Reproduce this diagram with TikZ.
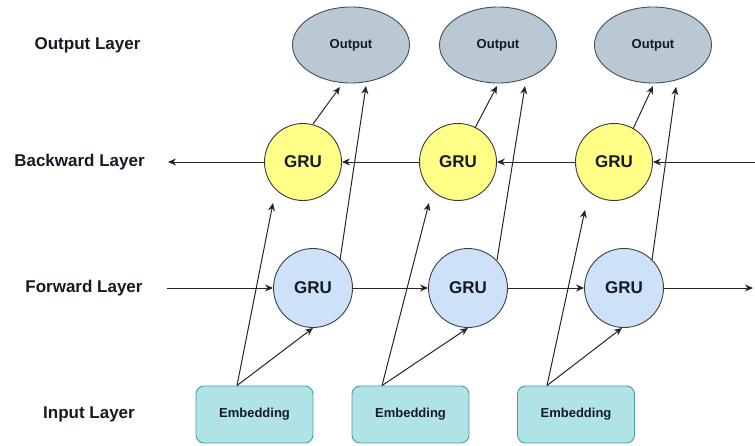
\documentclass[tikz,border=0pt]{standalone}
\usepackage{fontspec}
\setmainfont{Liberation Sans}
\usetikzlibrary{shapes.geometric,arrows.meta}
\definecolor{outfill}{HTML}{BAC8D3}
\definecolor{outdraw}{HTML}{3F4F5F}
\definecolor{yelfill}{HTML}{FFFF88}
\definecolor{yeldraw}{HTML}{36393D}
\definecolor{blufill}{HTML}{CDE1F8}
\definecolor{bludraw}{HTML}{3A3F48}
\definecolor{embfill}{HTML}{B0E3E6}
\definecolor{embdraw}{HTML}{4A9EA2}
\definecolor{txt}{HTML}{151A26}
\tikzset{
  lbl/.style={font=\fontsize{17}{20}\selectfont\bfseries, text=txt},
  outnode/.style={ellipse, draw=outdraw, fill=outfill, line width=0.9pt, minimum width=117pt, minimum height=76pt, inner sep=0pt, text=txt, font=\fontsize{13}{15}\selectfont\bfseries},
  bwd/.style={circle, draw=yeldraw, fill=yelfill, line width=0.9pt, minimum size=77pt, inner sep=0pt, text=txt, font=\fontsize{17}{20}\selectfont\bfseries},
  fwd/.style={circle, draw=bludraw, fill=blufill, line width=0.9pt, minimum size=79pt, inner sep=0pt, text=txt, font=\fontsize{17}{20}\selectfont\bfseries},
  emb/.style={rectangle, rounded corners=8pt, draw=embdraw, fill=embfill, line width=0.9pt, minimum width=117pt, minimum height=57pt, inner sep=0pt, text=txt, font=\fontsize{13}{15}\selectfont\bfseries},
  conn/.style={draw=black!85, line width=1pt, -{Stealth[length=8pt,width=7pt]}},
}
\begin{document}
\begin{tikzpicture}[x=1pt,y=-1pt]
\useasboundingbox (0,0) rectangle (755,445);
% layer labels
\node[lbl] (lout) at (87.5,45) {Output Layer};
\node[lbl] (lbwd) at (79.5,162) {Backward Layer};
\node[lbl] (lfwd) at (84,288) {Forward Layer};
\node[lbl] (linp) at (89,414) {Input Layer};
% nodes
\node[outnode] (o1) at (351,45) {Output};
\node[outnode] (o2) at (498,45) {Output};
\node[outnode] (o3) at (653,45) {Output};
\node[bwd] (y1) at (303,162) {GRU};
\node[bwd] (y2) at (458,162) {GRU};
\node[bwd] (y3) at (614,162) {GRU};
\node[fwd] (b1) at (313,288) {GRU};
\node[fwd] (b2) at (468,288) {GRU};
\node[fwd] (b3) at (624,288) {GRU};
\node[emb] (e1) at (254.5,414.5) {Embedding};
\node[emb] (e2) at (410.5,414.5) {Embedding};
\node[emb] (e3) at (576,414.5) {Embedding};
% free ends
\coordinate (bwdin) at (755,162);
\coordinate (bwdout) at (168,162);
\coordinate (fwdin) at (167,288);
\coordinate (fwdout) at (753,288);
% backward chain
\draw[conn] (bwdin) -- (y3);
\draw[conn] (y3) -- (y2);
\draw[conn] (y2) -- (y1);
\draw[conn] (y1) -- (bwdout);
% forward chain
\draw[conn] (fwdin) -- (b1);
\draw[conn] (b1) -- (b2);
\draw[conn] (b2) -- (b3);
\draw[conn] (b3) -- (fwdout);
% embeddings to GRUs
\draw[conn] ([xshift=-17.5pt]e1.north) -- ([shift={(-30,41)}]y1.center);
\draw[conn] ([xshift=-17.5pt]e1.north) -- (b1.south);
\draw[conn] ([xshift=-28.5pt]e2.north) -- ([shift={(-29,41)}]y2.center);
\draw[conn] ([xshift=-28.5pt]e2.north) -- (b2.south);
\draw[conn] ([xshift=-29pt]e3.north) -- ([shift={(-29,48)}]y3.center);
\draw[conn] ([xshift=-29pt]e3.north) -- ([xshift=-2pt]b3.south);
% GRUs to outputs
\draw[conn] ([shift={(10,-38)}]y1.center) -- ([shift={(-11,42)}]o1.center);
\draw[conn] ([shift={(27,-28)}]b1.center) -- ([shift={(15,41)}]o1.center);
\draw[conn] ([shift={(17,-34)}]y2.center) -- ([shift={(-1,41)}]o2.center);
\draw[conn] ([shift={(29,-28)}]b2.center) -- ([shift={(27,41)}]o2.center);
\draw[conn] ([shift={(19,-33)}]y3.center) -- ([shift={(0,41)}]o3.center);
\draw[conn] ([shift={(28,-28)}]b3.center) -- ([shift={(23,42)}]o3.center);
\end{tikzpicture}
\end{document}
